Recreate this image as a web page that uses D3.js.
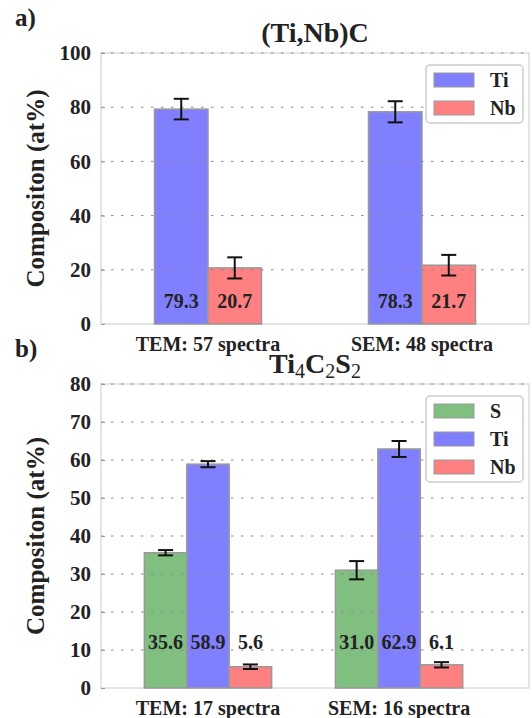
<!DOCTYPE html>
<html>
<head>
<meta charset="utf-8">
<script src="https://cdn.jsdelivr.net/npm/d3@7"></script>
<style>
  body { margin: 0; background: #fff; }
  svg text { font-family: "Liberation Serif", "Times New Roman", Times, "DejaVu Serif", serif; font-weight: bold; fill: #222; }
</style>
</head>
<body>
<div id="chart"></div>
<script>
// panel a: (Ti,Nb)C
var groupsA = ["TEM: 57 spectra", "SEM: 48 spectra"];
var seriesA = ["Ti", "Nb"];
var tiA = [79.3, 78.3], tiErrA = [3.8, 3.9];
var nbA = [20.7, 21.7], nbErrA = [3.9, 3.8];
var ticksA = [0, 20, 40, 60, 80, 100];

// panel b: Ti4C2S2
var groupsB = ["TEM: 17 spectra", "SEM: 16 spectra"];
var seriesB = ["S", "Ti", "Nb"];
var sB = [35.6, 31.0], sErrB = [0.7, 2.4];
var tiB = [58.9, 62.9], tiErrB = [0.8, 2.1];
var nbB = [5.6, 6.1], nbErrB = [0.6, 0.7];
var ticksB = [0, 10, 20, 30, 40, 50, 60, 70, 80];

var colors = {S: "#80bf80", Ti: "#8080ff", Nb: "#ff8080"};
var serif = "'Liberation Serif', 'Times New Roman', Times, 'DejaVu Serif', serif";

var svg = d3.select("#chart").append("svg")
    .attr("width", 532)
    .attr("height", 718)
    .attr("font-family", serif);

function drawPanel(opt) {
  var g = svg.append("g");
  var left = 101, right = 529;

  var x = d3.scaleLinear().domain(opt.xDomain).range([left, right]);
  var y = d3.scaleLinear().domain([0, opt.ticks[opt.ticks.length - 1]]).range([opt.bottom, opt.top]);

  // flatten into bars
  var bars = [];
  opt.groups.forEach(function(grp, i) {
    opt.series.forEach(function(s, j) {
      var x0 = i + (j - opt.series.length / 2) * opt.w;
      bars.push({s: s, x0: x0, v: opt.values[j][i], e: opt.errors[j][i]});
    });
  });

  // frame
  g.append("rect")
    .attr("x", left).attr("y", opt.top)
    .attr("width", right - left).attr("height", opt.bottom - opt.top)
    .attr("fill", "none").attr("stroke", "#d4d4d4").attr("stroke-width", 1.2);

  g.selectAll(".bar").data(bars).enter().append("rect")
    .attr("x", d => x(d.x0))
    .attr("y", d => y(d.v))
    .attr("width", d => x(d.x0 + opt.w) - x(d.x0))
    .attr("height", d => y(0) - y(d.v))
    .attr("fill", d => colors[d.s])
    .attr("stroke", "#999").attr("stroke-width", 1.5);

  // dotted grid on top of the bars
  g.selectAll(".grid").data(opt.ticks.slice(1)).enter().append("line")
    .attr("x1", left).attr("x2", right)
    .attr("y1", d => y(d)).attr("y2", d => y(d))
    .attr("stroke", "#888").attr("stroke-width", 1)
    .attr("stroke-dasharray", "2.5,7.5");

  // y axis
  var yAxis = d3.axisLeft(y).tickValues(opt.ticks).tickSize(-4).tickPadding(10);
  var ya = g.append("g").attr("transform", "translate(" + left + ",0)").call(yAxis);
  ya.attr("font-family", serif);
  ya.select(".domain").remove();
  ya.selectAll(".tick line").attr("stroke", "#999");
  ya.selectAll(".tick text").attr("font-size", 21).attr("fill", "#222");

  // error bars
  var cap = 7.5;
  var eb = g.selectAll(".err").data(bars).enter().append("g")
    .attr("stroke", "#111").attr("stroke-width", 2);
  eb.append("line")
    .attr("x1", d => x(d.x0 + opt.w / 2)).attr("x2", d => x(d.x0 + opt.w / 2))
    .attr("y1", d => y(d.v + d.e)).attr("y2", d => y(d.v - d.e));
  eb.append("line")
    .attr("x1", d => x(d.x0 + opt.w / 2) - cap).attr("x2", d => x(d.x0 + opt.w / 2) + cap)
    .attr("y1", d => y(d.v + d.e)).attr("y2", d => y(d.v + d.e));
  eb.append("line")
    .attr("x1", d => x(d.x0 + opt.w / 2) - cap).attr("x2", d => x(d.x0 + opt.w / 2) + cap)
    .attr("y1", d => y(d.v - d.e)).attr("y2", d => y(d.v - d.e));

  // value labels
  g.selectAll(".val").data(bars).enter().append("text")
    .attr("x", d => x(d.x0 + opt.w / 2))
    .attr("y", y(opt.labelY))
    .attr("text-anchor", "middle")
    .attr("font-size", 20)
    .text(d => d.v.toFixed(1));

  // group labels
  g.selectAll(".grp").data(opt.groups).enter().append("text")
    .attr("x", (d, i) => x(i))
    .attr("y", opt.bottom + 27)
    .attr("text-anchor", "middle")
    .attr("font-size", 20)
    .text(d => d);

  // axis title
  g.append("text")
    .attr("transform", "translate(44," + (opt.top + opt.bottom) / 2 + ") rotate(-90)")
    .attr("text-anchor", "middle")
    .attr("font-size", 25)
    .text("Compositon (at%)");

  // panel letter
  g.append("text").attr("x", 15).attr("y", opt.top - 27)
    .attr("font-size", 25).text(opt.letter);

  // title
  var t = g.append("text")
    .attr("x", (left + right) / 2).attr("y", opt.top - 11)
    .attr("text-anchor", "middle")
    .attr("font-size", 28);
  opt.title.forEach(function(p) {
    t.append("tspan").text(p[0])
      .attr("font-size", p[1] ? 20 : 28)
      .attr("font-weight", p[1] ? "normal" : "bold")
      .attr("dy", p[1] ? 5 : (p[2] ? -5 : 0));
  });

  // legend
  var lg = g.append("g").attr("transform", "translate(426," + (opt.top + 12) + ")");
  lg.append("rect")
    .attr("width", 97).attr("height", opt.series.length * 28 + 2)
    .attr("rx", 4)
    .attr("fill", "#fff").attr("stroke", "#ccc").attr("stroke-width", 1.5);
  var item = lg.selectAll(".li").data(opt.series).enter().append("g")
    .attr("transform", (d, i) => "translate(8," + (8 + i * 28) + ")");
  item.append("rect")
    .attr("width", 40).attr("height", 14)
    .attr("fill", d => colors[d]).attr("stroke", "#999").attr("stroke-width", 1);
  item.append("text")
    .attr("x", 56).attr("y", 14)
    .attr("font-size", 20)
    .text(d => d);
}

drawPanel({
  letter: "a)", title: [["(Ti,Nb)C"]],
  groups: groupsA, series: seriesA,
  values: [tiA, nbA], errors: [tiErrA, nbErrA],
  ticks: ticksA, top: 53, bottom: 324,
  xDomain: [-0.5, 1.5], w: 0.25, labelY: 6
});

drawPanel({
  letter: "b)", title: [["Ti"], ["4", 1], ["C", 0, 1], ["2", 1], ["S", 0, 1], ["2", 1]],
  groups: groupsB, series: seriesB,
  values: [sB, tiB, nbB], errors: [sErrB, tiErrB, nbErrB],
  ticks: ticksB, top: 384, bottom: 688,
  xDomain: [-0.56, 1.68], w: 0.222, labelY: 10.3
});
</script>
</body>
</html>
